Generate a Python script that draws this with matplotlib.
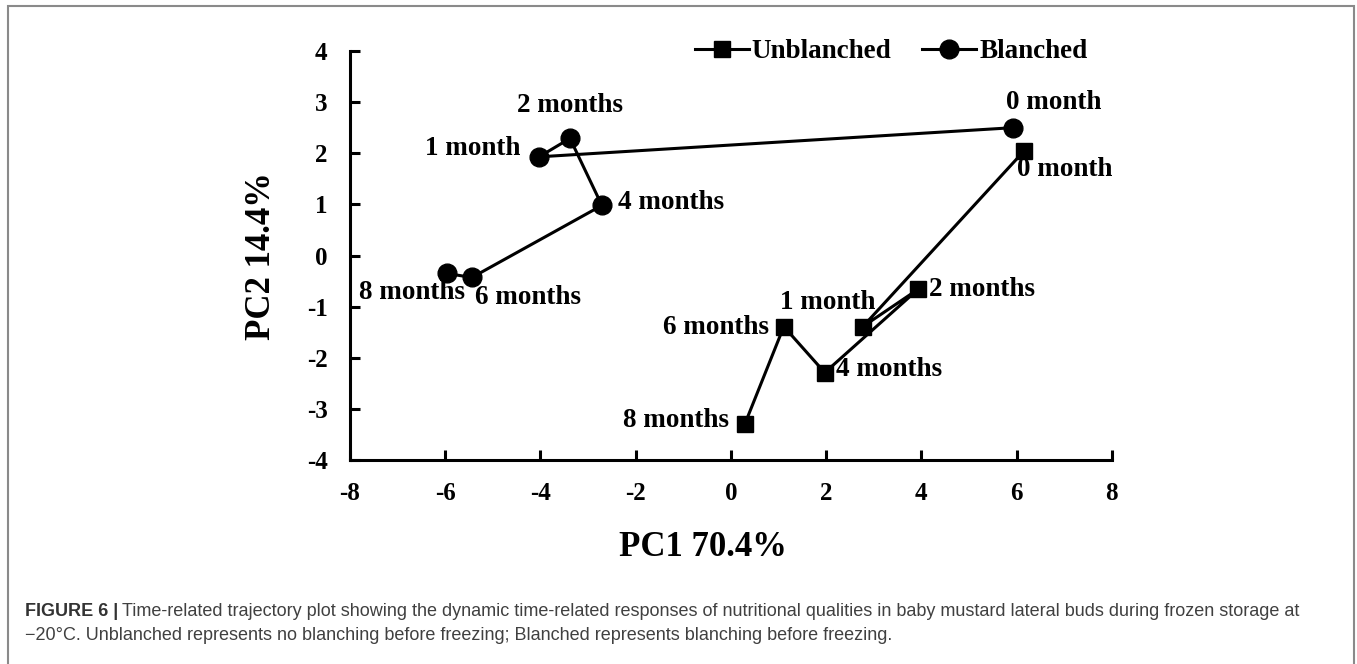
import matplotlib
matplotlib.use('Agg')
import matplotlib.pyplot as plt
from matplotlib.patches import Rectangle

# PCA trajectory data (PC1, PC2)
months = ['0 month', '1 month', '2 months', '4 months', '6 months', '8 months']
unbl_x = [6.16, 2.77, 3.93, 1.97, 1.11, 0.29]
unbl_y = [2.05, -1.39, -0.66, -2.29, -1.39, -3.30]
bl_x = [5.92, -4.03, -3.38, -2.71, -5.44, -5.97]
bl_y = [2.50, 1.93, 2.29, 0.98, -0.43, -0.35]

xticks = [-8, -6, -4, -2, 0, 2, 4, 6, 8]
yticks = [-4, -3, -2, -1, 0, 1, 2, 3, 4]

# label offsets in pixels and alignment
bl_off = [(41, 25, 'center'), (-19, 8, 'right'), (0, 33, 'center'),
          (16, 3, 'left'), (3, -20, 'left'), (18, -19, 'right')]
unbl_off = [(40, -19, 'center'), (-35, 24, 'center'), (11, 0, 'left'),
            (11, 3, 'left'), (-15, -1, 'right'), (-16, 4, 'right')]

serif = 'Liberation Serif'

fig = plt.figure(figsize=(13.57, 6.64), dpi=100)
ax = fig.add_axes([0.2579, 0.3072, 0.5615, 0.616])

l1, = ax.plot(unbl_x, unbl_y, color='black', lw=2.2, marker='s', ms=12,
              label='Unblanched', clip_on=False)
l2, = ax.plot(bl_x, bl_y, color='black', lw=2.2, marker='o', ms=13.5,
              label='Blanched', clip_on=False)

for i, m in enumerate(months):
    dx, dy, ha = bl_off[i]
    ax.annotate(m, (bl_x[i], bl_y[i]), xytext=(dx, dy), textcoords='offset pixels',
                ha=ha, va='center', fontsize=19.5, fontweight='bold', family=serif)
    dx, dy, ha = unbl_off[i]
    ax.annotate(m, (unbl_x[i], unbl_y[i]), xytext=(dx, dy), textcoords='offset pixels',
                ha=ha, va='center', fontsize=19.5, fontweight='bold', family=serif)

ax.set_xlim(-8, 8)
ax.set_ylim(-4, 4)
ax.set_xticks(xticks)
ax.set_yticks(yticks)
ax.set_xticklabels([str(t) for t in xticks])
ax.set_yticklabels([str(t) for t in yticks])
for s in ['top', 'right']:
    ax.spines[s].set_visible(False)
for s in ['left', 'bottom']:
    ax.spines[s].set_linewidth(2.2)
ax.tick_params(direction='in', length=7, width=2.2, pad=16, labelsize=18)
for t in ax.get_xticklabels() + ax.get_yticklabels():
    t.set_family(serif)
    t.set_fontweight('bold')

fig.text(703 / 1357, 1 - 547 / 664, 'PC1 70.4%', ha='center', va='center',
         fontsize=25, fontweight='bold', family=serif)
fig.text(262 / 1357, 1 - 256 / 664, 'PC2 14.4%', ha='center', va='center',
         rotation=90, fontsize=25, fontweight='bold', family=serif)

fig.legend(handles=[l1, l2], loc='center', bbox_to_anchor=(891 / 1357, 1 - 52 / 664),
           ncol=2, frameon=False, handlelength=2.0, handletextpad=0.1,
           columnspacing=1.15, prop={'family': serif, 'weight': 'bold', 'size': 19.5})

# outer frame of the figure panel
fig.patches.append(Rectangle((8 / 1357, -0.01), (1354 - 8) / 1357, 1.01 - 6 / 664,
                             transform=fig.transFigure, fill=False,
                             edgecolor='#8a8a8a', lw=1.5))

# caption
cap_size = 13.0
cap_x = 25 / 1357
y1 = 1 - 612 / 664
y2 = 1 - 636 / 664
bold = fig.text(cap_x, y1, 'FIGURE 6 |', ha='left', va='center', fontsize=cap_size,
                fontweight='bold', family='Liberation Sans', color='#333333')
fig.canvas.draw()
bb = bold.get_window_extent(renderer=fig.canvas.get_renderer())
fig.text(bb.x1 / fig.bbox.width + 4 / 1357, y1,
         'Time-related trajectory plot showing the dynamic time-related responses of '
         'nutritional qualities in baby mustard lateral buds during frozen storage at',
         ha='left', va='center', fontsize=cap_size, family='Liberation Sans', color='#404040')
fig.text(cap_x, y2,
         '\u221220\u00b0C. Unblanched represents no blanching before freezing; '
         'Blanched represents blanching before freezing.',
         ha='left', va='center', fontsize=cap_size, family='Liberation Sans', color='#404040')

fig.savefig('out.png', dpi=100)
